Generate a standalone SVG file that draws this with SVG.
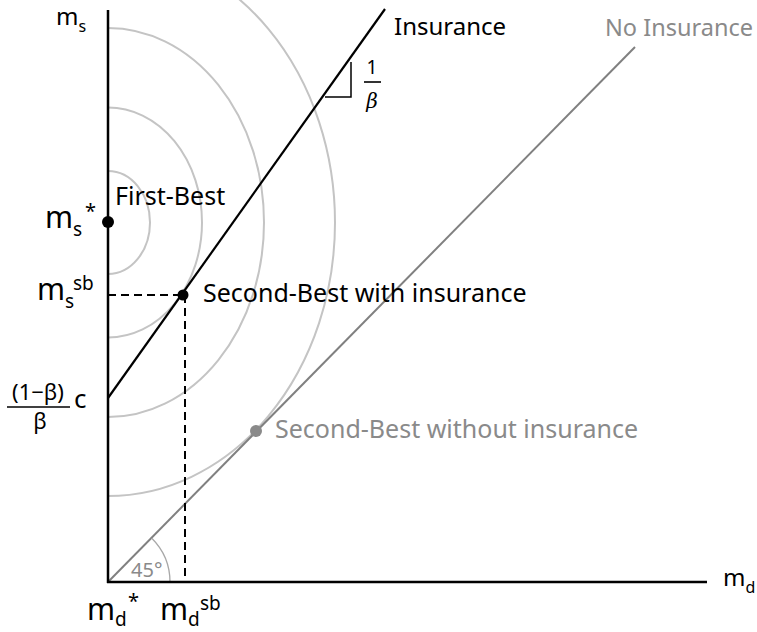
<svg xmlns="http://www.w3.org/2000/svg" width="757" height="632" viewBox="0 0 757 632">
<style>
  text { font-family: "Noto Sans", "Open Sans", "DejaVu Sans", sans-serif; fill: #000; }
  .gray { fill: #8a8a8a; }
  .lbl { font-size: 25px; }
  .axis { stroke: #000; stroke-width: 2.5; fill: none; }
  .ins { stroke: #000; stroke-width: 2.2; fill: none; }
  .noins { stroke: #808080; stroke-width: 2; fill: none; }
  .iso { stroke: #c4c4c4; stroke-width: 2; fill: none; }
  .dash { stroke: #000; stroke-width: 2; stroke-dasharray: 8 5; fill: none; }
  .thin { stroke: #000; stroke-width: 1.5; fill: none; }
</style>
<rect width="757" height="632" fill="#fff"/>

<g id="indifference-curves">
  <path class="iso" d="M108,171 A42,51.5 0 0 1 108,274"/>
  <path class="iso" d="M108,107.5 A94,115 0 0 1 108,337.5"/>
  <path class="iso" d="M108,28 A156,194.5 0 0 1 108,417"/>
  <path class="iso" d="M108,-51 A227,273.5 0 0 1 108,496"/>
</g>

<g id="connectors">
  <line class="noins" x1="108" y1="582" x2="635" y2="47"/>
  <line class="ins" x1="108" y1="398" x2="385" y2="9"/>
  <line class="dash" x1="108" y1="295" x2="183" y2="295"/>
  <line class="dash" x1="185" y1="295" x2="185" y2="582"/>
  <path d="M170,582 A62,62 0 0 0 151.8,538.2" stroke="#a8a8a8" stroke-width="1.3" fill="none"/>
  <path class="thin" d="M325,97 H351 V62"/>
</g>

<g id="axes">
  <line class="axis" x1="108" y1="10" x2="108" y2="583"/>
  <line class="axis" x1="107" y1="582" x2="707" y2="582"/>
</g>

<g id="first-best">
  <circle cx="108" cy="222" r="6" fill="#000"/>
  <text class="lbl" x="115" y="205">First-Best</text>
</g>

<g id="second-best-ins">
  <circle cx="183" cy="295" r="5.5" fill="#000"/>
  <text class="lbl" x="203" y="302">Second-Best with insurance</text>
</g>

<g id="second-best-noins">
  <circle cx="256" cy="431" r="6" fill="#8a8a8a"/>
  <text class="lbl gray" x="275" y="438">Second-Best without insurance</text>
</g>

<g id="line-labels">
  <text x="394" y="35" font-size="24">Insurance</text>
  <text class="gray" x="605" y="36" font-size="23.5">No Insurance</text>
  <text x="372" y="74" font-size="19" text-anchor="middle">1</text>
  <line x1="364" y1="82" x2="381" y2="82" stroke="#000" stroke-width="1.6"/>
  <text x="372" y="108" font-size="20" text-anchor="middle" font-style="italic" style="font-family:'DejaVu Serif','Liberation Serif',serif">β</text>
  <text class="gray" x="131" y="577" font-size="20">45°</text>
</g>

<g id="axis-labels">
  <text x="56" y="25" font-size="24">m<tspan font-size="16" dy="7">s</tspan></text>
  <text x="45" y="228" font-size="30">m<tspan font-size="19" dy="8">s</tspan></text>
  <text x="85" y="218" font-size="20">*</text>
  <text x="37" y="300" font-size="30">m<tspan font-size="19" dy="8">s</tspan></text>
  <text x="73" y="290" font-size="19">sb</text>
  <text x="38" y="400" font-size="22" text-anchor="middle">(1−β)</text>
  <line x1="7" y1="407" x2="70" y2="407" stroke="#000" stroke-width="1.4"/>
  <text x="40" y="429" font-size="22" text-anchor="middle">β</text>
  <text x="74" y="408" font-size="26">c</text>
  <text x="87" y="620" font-size="30">m<tspan font-size="19" dy="6">d</tspan></text>
  <text x="128" y="608" font-size="20">*</text>
  <text x="160" y="620" font-size="30">m<tspan font-size="19" dy="6">d</tspan></text>
  <text x="200" y="610" font-size="19">sb</text>
  <text x="723" y="586" font-size="24">m<tspan font-size="16" dy="7">d</tspan></text>
</g>
</svg>
